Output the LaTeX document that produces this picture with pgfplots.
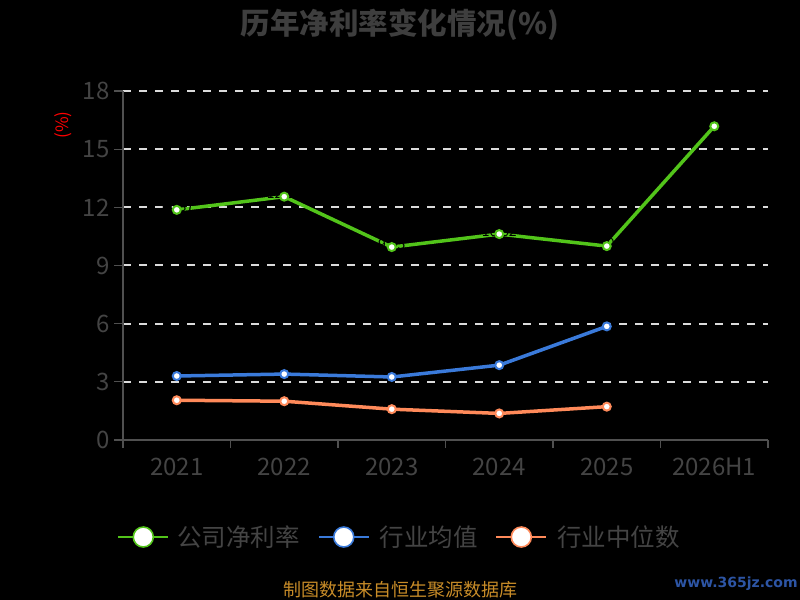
\documentclass[border=0pt]{standalone}
\usepackage{pgfplots}
\pgfplotsset{compat=1.18}
\usepackage{fontspec}
\setmainfont{Noto Sans CJK SC}
\newfontfamily\wmfont{DejaVu Sans}
\definecolor{gr}{RGB}{82,196,26}
\definecolor{bl}{RGB}{58,122,218}
\definecolor{orn}{RGB}{255,138,90}
\definecolor{tx}{RGB}{68,68,68}
\definecolor{ttl}{RGB}{62,62,62}
\definecolor{axc}{RGB}{80,80,80}
\definecolor{foot}{RGB}{200,140,40}
\definecolor{wmb}{RGB}{45,85,165}
\begin{document}
\begin{tikzpicture}[x=1bp,y=1bp]
\fill[black] (0,0) rectangle (800,600);
\useasboundingbox (0,0) rectangle (800,600);
\begin{axis}[
  at={(123bp,160bp)}, anchor=south west,
  scale only axis, width=645bp, height=349bp,
  xmin=-0.5, xmax=5.5, ymin=0, ymax=18,
  axis lines*=left,
  axis line style={draw=axc, line width=1.3bp, -},
  xtick={0,1,2,3,4,5},
  xticklabels={2021,2022,2023,2024,2025,2026H1},
  minor xtick={-0.5,0.5,1.5,2.5,3.5,4.5,5.5},
  ytick={0,3,6,9,12,15,18},
  tick align=outside,
  major tick length=9bp,
  minor tick length=8bp,
  major x tick style={draw=none},
  minor x tick style={draw=axc, line width=1.3bp},
  major y tick style={draw=axc, line width=1.3bp},
  ymajorgrids,
  grid style={draw=white!86!black, line width=2bp, dash pattern=on 8bp off 8bp},
  ticklabel style={font=\fontsize{24bp}{24bp}\selectfont, text=tx},
  /pgf/number format/assume math mode=true,
  xticklabel style={text height=17bp, text depth=0bp, anchor=north, yshift=-6bp},
  yticklabel style={xshift=-1bp},
  clip=false,
  legend style={at={(0.4287,-0.278)}, anchor=center, draw=none, fill=none,
    legend columns=3, text=tx, font=\fontsize{24.5bp}{24.5bp}\selectfont,
    /tikz/every even column/.append style={column sep=16bp}},
  legend cell align=left,
]
% green line with (black) value labels underneath markers
\addplot[gr, line width=3.5bp, forget plot,
  nodes near coords={\pgfmathprintnumber[fixed,precision=2]{\pgfplotspointmeta}},
  every node near coord/.append style={text=black, font=\fontsize{14bp}{14bp}\selectfont, anchor=south, inner sep=0pt, yshift=-4bp}]
  coordinates {(0,11.87) (1,12.55) (2,9.95) (3,10.62) (4,10.0) (5,16.18)};
\addplot[only marks, mark=*, mark size=4bp, mark options={fill=white, draw=gr, line width=2bp},
  legend image code/.code={\draw[gr, line width=1.6bp] (0bp,0bp) -- (50bp,0bp);
    \draw[gr, line width=1.6bp, fill=white] (25bp,0bp) circle (10bp); \path (57bp,0bp);}]
  coordinates {(0,11.87) (1,12.55) (2,9.95) (3,10.62) (4,10.0) (5,16.18)};
\addlegendentry{公司净利率}
\addplot[bl, line width=3.5bp, mark=*, mark size=4bp, mark options={fill=white, draw=bl, line width=2bp},
  legend image code/.code={\draw[bl, line width=1.6bp] (0bp,0bp) -- (50bp,0bp);
    \draw[bl, line width=1.6bp, fill=white] (25bp,0bp) circle (10bp); \path (57bp,0bp);}]
  coordinates {(0,3.30) (1,3.40) (2,3.25) (3,3.86) (4,5.86)};
\addlegendentry{行业均值}
\addplot[orn, line width=3.5bp, mark=*, mark size=4bp, mark options={fill=white, draw=orn, line width=2bp},
  legend image code/.code={\draw[orn, line width=1.6bp] (0bp,0bp) -- (50bp,0bp);
    \draw[orn, line width=1.6bp, fill=white] (25bp,0bp) circle (10bp); \path (57bp,0bp);}]
  coordinates {(0,2.05) (1,2.00) (2,1.59) (3,1.37) (4,1.72)};
\addlegendentry{行业中位数}
\end{axis}
\node[text=ttl, font=\fontsize{29.5bp}{29.5bp}\selectfont\bfseries] at (400,575) {历年净利率变化情况(\%)};
\node[text=red, font=\fontsize{17bp}{17bp}\selectfont, rotate=90] at (63,475) {(\%)};
\node[text=foot, font=\fontsize{18bp}{18bp}\selectfont] at (400,10) {制图数据来自恒生聚源数据库};
\node[text=wmb, font=\wmfont\bfseries\fontsize{14bp}{14bp}\selectfont] at (736,16) {www.365jz.com};
\end{tikzpicture}
\end{document}
